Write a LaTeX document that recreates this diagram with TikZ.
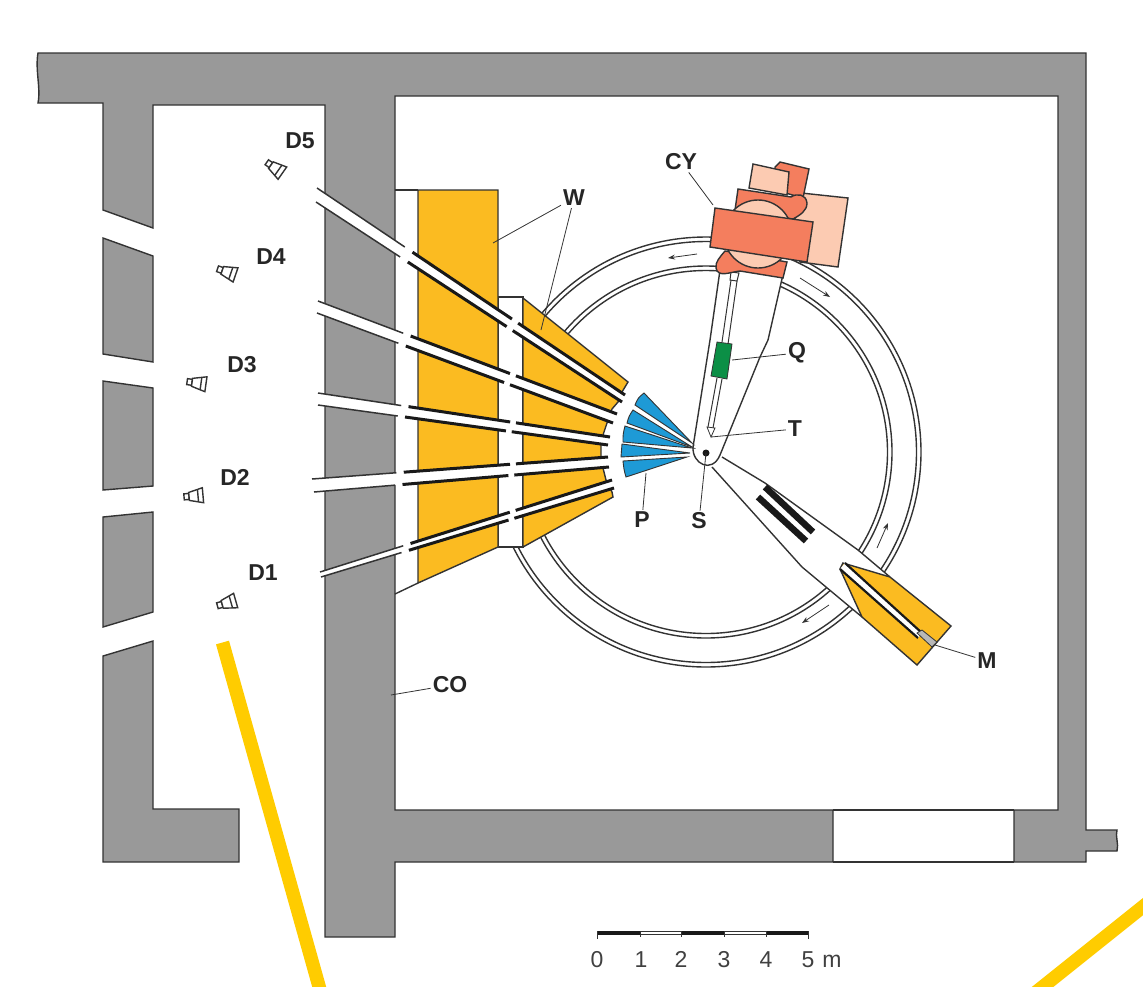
\documentclass[tikz,border=0pt]{standalone}
\usepackage{fontspec}
\setmainfont{Liberation Sans}
\usetikzlibrary{calc,arrows.meta}

\definecolor{wallgrey}{HTML}{999999}
\definecolor{shieldyellow}{HTML}{FBBB21}
\definecolor{edgedark}{HTML}{333333}
\definecolor{cysalmon}{HTML}{F47E5E}
\definecolor{cypale}{HTML}{FCCBB2}
\definecolor{fanblue}{HTML}{1E9AD6}
\definecolor{quadgreen}{HTML}{0C8F46}
\definecolor{markyellow}{HTML}{FFCC00}

% one flight path: start and end of line A, start and end of line B, second break
\newcommand{\flightpath}[5]{%
    \fill[white] (#1) -- (#2) -- (#4) -- (#3) -- cycle;
    \draw[paththin] (#1) -- ($(#1)!.285!(#2)$);
    \draw[paththick] ($(#1)!.31!(#2)$) -- ($(#1)!#5!(#2)$);
    \draw[paththick] ($(#1)!#5+.02!(#2)$) -- (#2);
    \draw[paththin] (#3) -- ($(#3)!.275!(#4)$);
    \draw[paththick] ($(#3)!.30!(#4)$) -- ($(#3)!#5-.01!(#4)$);
    \draw[paththick] ($(#3)!#5+.01!(#4)$) -- (#4);
}

\tikzset{
    detector/.pic={
        \draw[edge,fill=white] (-10,-3) rectangle (-5,3);
        \draw[edge,fill=white] (-5,-4) -- (9,-7.5) -- (9,7.5) -- (-5,4) -- cycle;
        \draw[edge] (4,-6.2) -- (4,6.2);
    }
}

\begin{document}
\begin{tikzpicture}[
        x=1pt, y=-1pt,
        edge/.style={draw=edgedark,line width=1.4pt,line join=miter},
        wall/.style={edge,fill=wallgrey},
        shield/.style={edge,fill=shieldyellow},
        salmon/.style={edge,fill=cysalmon},
        pale/.style={edge,fill=cypale},
        ringline/.style={edgedark,line width=1.4pt},
        paththin/.style={edgedark,line width=1.5pt},
        paththick/.style={black!90,line width=3pt},
        leader/.style={edgedark,line width=0.8pt},
        flow/.style={edgedark,line width=0.8pt,-{Stealth[length=7pt,width=5pt]}},
        lab/.style={font=\fontsize{23}{23}\selectfont\bfseries,text=black!85,inner sep=2pt},
        num/.style={font=\fontsize{23}{23}\selectfont,text=black!75,inner sep=0pt,anchor=base},
        yellowbar/.style={markyellow,line width=13.5pt}
    ]
    \useasboundingbox (0,0) rectangle (1143,986);
    \clip (0,0) rectangle (1143,986);

    % walls
    \draw[wall] (38,53) -- (1086,53) -- (1086,830) -- (1117,830)
        .. controls (1115,836) and (1119,844) .. (1117,851)
        -- (1086,851) -- (1086,862) -- (1014,862) -- (1014,810) -- (1058,810)
        -- (1058,96) -- (395,96) -- (395,810) -- (833,810) -- (833,862)
        -- (395,862) -- (395,937) -- (325,937) -- (325,105) -- (153,105)
        -- (153,228) -- (103,210) -- (103,103) -- (38,103)
        .. controls (41,88) and (35,70) .. (38,53) -- cycle;
    \draw[edge] (833,810) -- (1014,810);
    \draw[edge] (833,862) -- (1014,862);
    \draw[wall] (103,238) -- (153,256) -- (153,362) -- (103,354) -- cycle;
    \draw[wall] (103,381) -- (153,388) -- (153,486) -- (103,490) -- cycle;
    \draw[wall] (103,517) -- (153,512) -- (153,612) -- (103,627) -- cycle;
    \draw[wall] (103,656) -- (153,641) -- (153,809) -- (239,809) -- (239,862) -- (103,862) -- cycle;

    % rings
    \foreach \r in {215,210.5,186,181.5}
        \draw[ringline] (706,452) circle [radius=\r];
    \draw[flow] (697,254) -- (668,258);
    \draw[flow] (800,278) -- (830,297);
    \draw[flow] (877,548) -- (888,523);
    \draw[flow] (829,605) -- (802,623);

    % arm towards M
    \fill[white] (722,457) -- (765,483) -- (858,550) -- (890,577) -- (862,617) -- (850,607) -- (802,567) -- (712,467) -- cycle;
    \draw[edge] (722,457) -- (765,483) -- (858,550) -- (890,577);
    \draw[edge] (712,467) -- (802,567) -- (850,607) -- (862,617);
    \draw[black!90,line width=6.5pt] (765,487) -- (813,532);
    \draw[black!90,line width=6.5pt] (758,497) -- (806,541);
    \draw[shield] (843,563) -- (890,577) -- (951,626) -- (917,665) -- (862,617) -- (840,569) -- cycle;
    \fill[white] (845,563) -- (922,633) -- (918,638) -- (840,569) -- cycle;
    \draw[paththick,line width=2.2pt] (845,563) -- (922,633);
    \draw[paththick,line width=2.2pt] (840,569) -- (918,638);
    \draw[edge,fill=wallgrey!70,line width=0.8pt] (917,633) -- (922,630) -- (937,642) -- (932,647) -- cycle;

    % arm towards Q
    \fill[white] (720,270) -- (708,340) -- (693,447) .. controls (692,464) and (712,474) .. (720,455)
        -- (760,357) -- (768,340) -- (784,270) -- cycle;
    \draw[edge] (720,270) -- (710,340) -- (693,447) .. controls (692,464) and (712,474) .. (720,455)
        -- (760,357) -- (768,340) -- (784,270);
    \draw[edge,line width=1pt,fill=white] (731,272) -- (739,273) -- (737,281) -- (730,280) -- cycle;
    \draw[edge,line width=1pt] (731,280) -- (722,342);
    \draw[edge,line width=1pt] (737,281) -- (728,344);
    \draw[edge,line width=1pt] (717,378) -- (708,427);
    \draw[edge,line width=1pt] (722,379) -- (713,428);
    \draw[edge,line width=0.8pt] (707,427) -- (715,428) -- (711,437) -- cycle;
    \draw[edge,fill=quadgreen,line width=0.8pt] (717,342) -- (732,344) -- (727,379) -- (711,376) -- cycle;

    % cryostat
    \draw[pale] (792,192) -- (848,198) -- (838,267) -- (800,262) -- cycle;
    \draw[salmon] (775,167) -- (780,162) -- (809,169) -- (803,198) -- (775,190) -- cycle;
    \draw[pale] (753,164) -- (789,172) -- (787,195) -- (749,188) -- cycle;
    \draw[salmon] (738,189) -- (791,197) .. controls (797,193) and (806,194) .. (807,203)
        .. controls (807,211) and (800,215) .. (793,219) -- (735,210) -- cycle;
    \draw[salmon] (725,251) -- (787,262) -- (783,278) -- (740,271)
        .. controls (730,272) and (718,278) .. (716,268) .. controls (715,262) and (720,257) .. (725,251) -- cycle;
    \draw[pale] (758,234) circle [radius=34];
    \draw[salmon] (715,208) -- (813,222) -- (807,262) -- (710,247) -- cycle;

    % shielding
    \draw[edge] (395,190) -- (418,190);
    \draw[edge] (395,594) -- (418,583);
    \draw[edge,fill=white] (498,297) -- (523,297) -- (523,547) -- (498,547) -- cycle;
    \draw[shield] (418,190) -- (498,190) -- (498,547) -- (418,583) -- cycle;
    \draw[shield] (523,298) -- (628,382) -- (622,392) -- (618,402) -- (612,409) -- (607,423)
        -- (603,435) -- (601,445) -- (601,457) -- (603,468) -- (606,480) -- (612,492)
        -- (613,497) -- (523,547) -- cycle;

    % flight paths
    \flightpath{317,188}{625,395}{316,202}{622,402}{.633}
    \flightpath{318,301}{617,414}{317,313}{613,423}{.642}
    \flightpath{318,393}{610,437}{318,405}{608,445}{.658}
    \flightpath{312,479}{608,457}{314,492}{609,467}{.669}
    \flightpath{320,572}{612,480}{321,577}{614,488}{.65}

    % fan of blades
    \foreach \ax/\ay/\cx/\cy/\bx/\by/\tx/\ty in {
            644/393/638/398/635/405/692/443,
            633/410/629/416/627/423/692/447,
            625/426/623/434/623/442/692/448,
            622/444/621/450/621/457/690/453,
            623/461/624/470/626/477/687/457}
        \draw[edge,line width=0.9pt,fill=fanblue] (\ax,\ay) .. controls (\cx,\cy) .. (\bx,\by) -- (\tx,\ty) -- cycle;

    % sample position
    \fill[black!90] (706,453) circle [radius=3.5];

    % detectors
    \pic[rotate=-35] at (275,168) {detector};
    \pic[rotate=-19] at (227,272) {detector};
    \pic[rotate=-8] at (197,383) {detector};
    \pic[rotate=5] at (194,496) {detector};
    \pic[rotate=16] at (227,603) {detector};

    % labels
    \node[lab] (dfive) at (300,141) {D5};
    \node[lab] (dfour) at (271,257) {D4};
    \node[lab] (dthree) at (242,365) {D3};
    \node[lab] (dtwo) at (235,477) {D2};
    \node[lab] (done) at (263,573) {D1};
    \node[lab] (cy) at (681,162) {CY};
    \node[lab] (w) at (574,198) {W};
    \node[lab] (q) at (797,353) {Q};
    \node[lab] (t) at (795,429) {T};
    \node[lab] (p) at (642,520) {P};
    \node[lab] (s) at (699,521) {S};
    \node[lab] (m) at (987,661) {M};
    \node[lab] (co) at (450,685) {CO};

    % leaders
    \coordinate (cyend) at (713,205);
    \coordinate (wone) at (493,243);
    \coordinate (wtwo) at (541,330);
    \coordinate (qend) at (732,360);
    \coordinate (tend) at (711,437);
    \coordinate (pend) at (646,473);
    \coordinate (send) at (706,453);
    \coordinate (mend) at (935,645);
    \coordinate (coend) at (391,695);
    \draw[leader] (cy) -- (cyend);
    \draw[leader] (w) -- (wone);
    \draw[leader] (w) -- (wtwo);
    \draw[leader] (q) -- (qend);
    \draw[leader] (t) -- (tend);
    \draw[leader] (p) -- (pend);
    \draw[leader] (s) -- (send);
    \draw[leader] (m) -- (mend);
    \draw[leader] (co) -- (coend);

    % scale bar
    \draw[edgedark,line width=0.7pt] (597,931.5) -- (808,931.5);
    \draw[edgedark,line width=0.7pt] (597,934.5) -- (808,934.5);
    \foreach \a/\b in {597/640,681/724,766/808}
        \fill[black!90] (\a,931) rectangle (\b,935);
    \foreach \x in {597,808}
        \draw[edgedark,line width=0.7pt] (\x,931) -- (\x,939);
    \foreach \x in {640,681,724,766}
        \draw[edgedark,line width=0.7pt] (\x,931) -- (\x,937);
    \node[num] (nzero) at (597,967) {0};
    \node[num] (none) at (641,967) {1};
    \node[num] (ntwo) at (681,967) {2};
    \node[num] (nthree) at (724,967) {3};
    \node[num] (nfour) at (766,967) {4};
    \node[num] (nfive) at (808,967) {5};
    \node[num] (metre) at (832,967) {m};

    % yellow marks
    \draw[yellowbar] (222.5,642.5) -- (324,1004);
    \draw[yellowbar] (1160,893) -- (1020,1005);
\end{tikzpicture}
\end{document}
